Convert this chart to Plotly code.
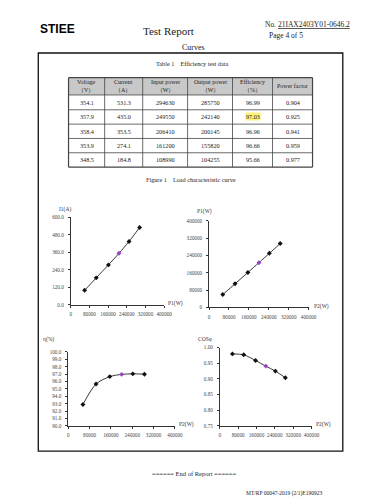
import plotly.graph_objects as go

# ---- table data ----
header = ["Voltage<br>（V）", "Current<br>（A）", "Input power<br>（W）", "Output power<br>（W）", "Efficiency<br>（%）", "Power factor"]
voltage = ["354.1", "357.9", "358.4", "353.9", "348.5"]
current = ["531.3", "435.0", "353.5", "274.1", "184.8"]
input_power = ["294630", "249550", "206410", "161200", "108990"]
output_power = ["285750", "242140", "200145", "155820", "104255"]
efficiency = ["96.99", "97.03", "96.96", "96.66", "95.66"]
power_factor = ["0.904", "0.925", "0.941", "0.959", "0.977"]
highlight_row, highlight_col = 1, 4

# ---- curve data (ascending load, incl. lowest load point) ----
curve_p1 = [59200, 108990, 161200, 206410, 249550, 294630]
curve_i1 = [99.0, 184.8, 274.1, 353.5, 435.0, 531.3]
curve_p2 = [55000, 104255, 155820, 200145, 242140, 285750]
curve_eff = [92.9, 95.66, 96.66, 96.96, 97.03, 96.99]
curve_pf = [0.980, 0.977, 0.959, 0.941, 0.925, 0.904]
mark_index = 3

W, H = 375, 500
def X(px): return px / W
def Y(py): return 1 - py / H

SERIF = "Liberation Serif"
TICKF = dict(family="Liberation Serif", size=5.2, color="#444")

fig = go.Figure()
shapes = []
ann = []

def text(x, y, s, size=7, family=SERIF, color="#222", xanchor="center", **kw):
    ann.append(dict(x=X(x), y=Y(y), xref="paper", yref="paper", text=s, showarrow=False,
                    font=dict(family=family, size=size, color=color), xanchor=xanchor,
                    yanchor="middle", **kw))

# header
text(50, 18, "<b>STIEE</b>", size=12, family="Liberation Sans", color="#000")
text(163, 20, "Test Report", size=11, color="#222")
text(260, 14, "No. <u>21IAX2403Y01-0646.2</u>", size=7.5, xanchor="left")
text(264, 24.5, "Page 4 of 5", size=7.5, xanchor="left")
text(189, 36.5, "Curves", size=8)

# outer box
shapes.append(dict(type="rect", xref="paper", yref="paper", x0=X(30), x1=X(342), y0=Y(42.5), y1=Y(445.5),
                   line=dict(color="#111", width=1.3)))

text(188, 53.5, "Table 1&nbsp;&nbsp;&nbsp;&nbsp;Efficiency test data", size=6.2)

# table
cols = [61, 98, 137, 183, 229, 270, 311]
rows = [67.5, 85, 100, 114.5, 129, 143.5, 158]
shapes.append(dict(type="rect", xref="paper", yref="paper", x0=X(cols[0]), x1=X(cols[-1]), y0=Y(rows[0]), y1=Y(rows[1]),
                   fillcolor="#c8c8c8", line=dict(width=0), layer="below"))
for c in cols:
    w = 1.2 if c in (cols[0], cols[-1]) else 0.8
    shapes.append(dict(type="line", xref="paper", yref="paper", x0=X(c), x1=X(c), y0=Y(rows[0]), y1=Y(rows[-1]),
                       line=dict(color="#444", width=w)))
for r in rows:
    w = 1.2 if r in (rows[0], rows[-1]) else 0.8
    shapes.append(dict(type="line", xref="paper", yref="paper", x0=X(cols[0]), x1=X(cols[-1]), y0=Y(r), y1=Y(r),
                       line=dict(color="#444", width=w)))
for j, h in enumerate(header):
    text((cols[j] + cols[j + 1]) / 2, (rows[0] + rows[1]) / 2, h, size=6)
table_cols = [voltage, current, input_power, output_power, efficiency, power_factor]
for j, col in enumerate(table_cols):
    for i, v in enumerate(col):
        cx = (cols[j] + cols[j + 1]) / 2
        cy = (rows[i + 1] + rows[i + 2]) / 2
        if i == highlight_row and j == highlight_col:
            text(cx, cy, v, size=6.2, bgcolor="#fff27a", borderpad=0)
        else:
            text(cx, cy, v, size=6.2)

text(186, 171, "Figure 1&nbsp;&nbsp;&nbsp;&nbsp;Load characteristic curve", size=6.2)

# charts
charts = [
    dict(x=curve_p1, y=curve_i1, xd=(63.3, 159), yd=(297.3, 209), yr=(0, 600), dt=120, fmt=".1f",
         ytitle=("I1(A)", 57, 201), xtitle=("P1(W)", 161, 296)),
    dict(x=curve_p2, y=curve_p1, xd=(205, 307), yd=(300, 212.3), yr=(0, 400000), dt=80000, fmt="d",
         ytitle=("P1(W)", 200, 203), xtitle=("P2(W)", 310, 299)),
    dict(x=curve_p2, y=curve_eff, xd=(60.7, 170), yd=(420, 345), yr=(90, 100), dt=1, fmt=".1f",
         ytitle=("η(%)", 40, 332), xtitle=("P2(W)", 172, 419)),
    dict(x=curve_p2, y=curve_pf, xd=(216, 310), yd=(420, 340.7), yr=(0.75, 1.0), dt=0.05, fmt=".2f",
         ytitle=("COSφ", 201, 332), xtitle=("P2(W)", 313, 419)),
]
for k, c in enumerate(charts, start=1):
    xa = "x" if k == 1 else f"x{k}"
    ya = "y" if k == 1 else f"y{k}"
    colors = ["#111"] * len(c["x"])
    colors[mark_index] = "#9b3fc4"
    fig.add_trace(go.Scatter(x=c["x"], y=c["y"], xaxis=xa, yaxis=ya, mode="lines+markers",
                             line=dict(color="#222", width=0.9, shape="spline", smoothing=0.8),
                             marker=dict(symbol="diamond", size=3.8, color=colors),
                             showlegend=False, cliponaxis=False))
    common = dict(showline=True, linecolor="#333", linewidth=0.8, showgrid=False, zeroline=False,
                  ticks="outside", ticklen=2, tickcolor="#333", tickfont=TICKF)
    fig.update_layout(**{
        ("xaxis" if k == 1 else f"xaxis{k}"): dict(domain=[X(c["xd"][0]), X(c["xd"][1])], range=[0, 400000],
                                                   dtick=80000, tick0=0, tickformat="d", tickangle=0,
                                                   anchor=ya, ticklabelstandoff=2, **common),
        ("yaxis" if k == 1 else f"yaxis{k}"): dict(domain=[Y(c["yd"][0]), Y(c["yd"][1])], range=list(c["yr"]),
                                                   dtick=c["dt"], tick0=c["yr"][0], tickformat=c["fmt"],
                                                   anchor=xa, ticklabelstandoff=3, **common),
    })
    t, tx, ty = c["ytitle"]
    text(tx, ty, t, size=5.5, family="Liberation Serif", color="#333")
    t, tx, ty = c["xtitle"]
    text(tx, ty, t, size=5.5, family="Liberation Serif", color="#333", xanchor="left")

# footer
text(190, 468, "====== End of Report ======", size=6.5)
text(282, 488, "MT/RP 00047-2019 (2/1)E190923", size=5.5)

fig.update_layout(width=W, height=H, margin=dict(l=0, r=0, t=0, b=0), paper_bgcolor="white",
                  plot_bgcolor="white", shapes=shapes, annotations=ann, showlegend=False)
fig.write_html("out.html", config={"displayModeBar": False})
